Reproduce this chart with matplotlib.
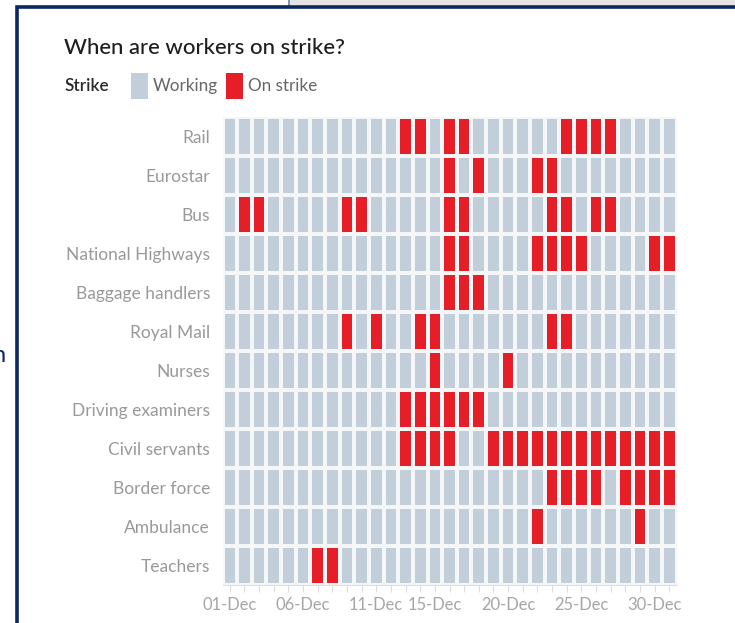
import matplotlib
matplotlib.use("Agg")
import matplotlib.pyplot as plt
from matplotlib.colors import ListedColormap
from matplotlib.patches import Rectangle
import numpy as np

# Sectors, top to bottom, and the December days each one is on strike
SECTORS = [
    "Rail", "Eurostar", "Bus", "National Highways", "Baggage handlers",
    "Royal Mail", "Nurses", "Driving examiners", "Civil servants",
    "Border force", "Ambulance", "Teachers",
]
rail = [13, 14, 16, 17, 24, 25, 26, 27]
eurostar = [16, 18, 22, 23]
bus = [2, 3, 9, 10, 16, 17, 23, 24, 26, 27]
national_highways = [16, 17, 22, 23, 24, 25, 30, 31]
baggage_handlers = [16, 17, 18]
royal_mail = [9, 11, 14, 15, 23, 24]
nurses = [15, 20]
driving_examiners = [13, 14, 15, 16, 17, 18]
civil_servants = [13, 14, 15, 16, 19, 20, 21, 22, 23, 24, 25, 26, 27, 28, 29, 30, 31]
border_force = [23, 24, 25, 26, 28, 29, 30, 31]
ambulance = [22, 29]
teachers = [7, 8]
STRIKE_DAYS = [rail, eurostar, bus, national_highways, baggage_handlers,
               royal_mail, nurses, driving_examiners, civil_servants,
               border_force, ambulance, teachers]

DAYS = list(range(1, 32))
LABELED_DAYS = [1, 6, 11, 15, 20, 25, 30]

COLOR_WORKING = "#c2cfda"
COLOR_STRIKE = "#e61e27"
COLOR_NAVY = "#0b2660"
FONT = ["Lato", "DejaVu Sans"]

W, H = 735, 623
fig = plt.figure(figsize=(W / 100, H / 100), dpi=100)
fig.patch.set_facecolor("white")

# page frame (pixel coordinates)
bg = fig.add_axes([0, 0, 1, 1], zorder=0)
bg.set_xlim(0, W)
bg.set_ylim(H, 0)
bg.axis("off")
bg.add_patch(Rectangle((289, -2), W - 289, 6.5, facecolor="#e4e4e4",
                       edgecolor="none"))
bg.plot([289, 289], [0, 6], color="#6d7f99", lw=1.2)
bg.plot([17, 17, W + 2], [H + 2, 6.5, 6.5], color=COLOR_NAVY, lw=2.6,
        solid_joinstyle="miter")
bg.text(6, 356, "n", color=COLOR_NAVY, fontsize=17, ha="right", va="center",
        family=FONT)

bg.text(64, 48, "When are workers on strike?", fontsize=15.9, color="#1e1e1e",
        ha="left", va="center", family=FONT, fontweight="medium")
bg.text(65, 86, "Strike", fontsize=12.3, color="#2a2a2a", ha="left",
        va="center", family=FONT, fontweight="semibold")
bg.add_patch(Rectangle((131, 73), 17, 26, facecolor=COLOR_WORKING,
                       edgecolor="none"))
bg.text(153, 86, "Working", fontsize=12.3, color="#666666", ha="left",
        va="center", family=FONT)
bg.add_patch(Rectangle((226, 73), 17, 26, facecolor=COLOR_STRIKE,
                       edgecolor="none"))
bg.text(248, 86, "On strike", fontsize=12.3, color="#666666", ha="left",
        va="center", family=FONT)

# heatmap
left, right, top, bottom = 222.5, 676.5, 117, 585
ax = fig.add_axes([left / W, (H - bottom) / H, (right - left) / W,
                   (bottom - top) / H], zorder=1)

grid = np.zeros((len(SECTORS), len(DAYS)))
for i, days in enumerate(STRIKE_DAYS):
    for d in days:
        grid[i, DAYS.index(d)] = 1

ax.pcolormesh(np.arange(len(DAYS) + 1) - 0.5, np.arange(len(SECTORS) + 1) - 0.5,
              grid, cmap=ListedColormap([COLOR_WORKING, COLOR_STRIKE]),
              vmin=0, vmax=1, edgecolors="#f4f6f8", linewidth=1.7)
ax.set_xlim(-0.5, len(DAYS) - 0.5)
ax.set_ylim(len(SECTORS) - 0.5, -0.5)

ax.set_yticks(range(len(SECTORS)))
ax.set_yticklabels(SECTORS, family=FONT, fontsize=12.5, color="#999999")
ax.tick_params(axis="y", length=0, pad=9)

ax.set_xticks(range(len(DAYS)))
ax.set_xticklabels([f"{d:02d}-Dec" if d in LABELED_DAYS else "" for d in DAYS],
                   family=FONT, fontsize=11.9, color="#a6a6a6")
ax.tick_params(axis="x", length=5, width=0.8, color="#dddddd", pad=4)

for s in ("top", "right", "left"):
    ax.spines[s].set_visible(False)
ax.spines["bottom"].set_color("#dddddd")
ax.spines["bottom"].set_linewidth(0.8)

fig.savefig("out.png", dpi=100, facecolor="white")
